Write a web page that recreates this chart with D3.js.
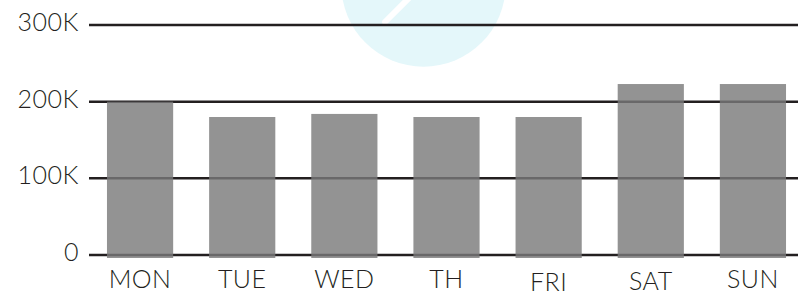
<!DOCTYPE html>
<html>
<head>
<meta charset="utf-8">
<script src="https://cdn.jsdelivr.net/npm/d3@7"></script>
<style>
    body { margin: 0; background: #fff; }
    svg { display: block; }
    text { font-family: "Lato", "Open Sans", sans-serif; font-weight: 300; fill: #231f20; letter-spacing: 0.5px; }
</style>
</head>
<body>
<svg id="chart"></svg>
<script>
const days = ["MON", "TUE", "WED", "TH", "FRI", "SAT", "SUN"];
const visits = [200000, 180000, 184000, 180000, 180000, 223000, 223000];
const yTicks = [0, 100000, 200000, 300000];
const yTickLabels = ["0", "100K", "200K", "300K"];

// small vertical nudges of the day labels, as in the original
const labelNudge = [0, 0, 0, 0, 3, 2, 0];

const width = 798;
const height = 295;

const svg = d3.select("#chart")
    .attr("width", width)
    .attr("height", height);

const x = d3.scaleBand()
    .domain(days)
    .range([89, 804])
    .paddingInner(0.352)
    .paddingOuter(0.176);

const y = d3.scaleLinear()
    .domain([0, 300000])
    .range([255, 25]);

// faint watermark behind the chart
const mark = svg.append("g");
mark.append("circle")
    .attr("cx", 423.5)
    .attr("cy", -15.5)
    .attr("r", 82.2)
    .attr("fill", "#e4f7fa");
mark.append("line")
    .attr("x1", 385)
    .attr("y1", 22)
    .attr("x2", 414)
    .attr("y2", -7)
    .attr("stroke", "#fff")
    .attr("stroke-width", 6)
    .attr("stroke-linecap", "round");

// gridlines
svg.append("g")
    .selectAll("line")
    .data(yTicks)
    .enter().append("line")
    .attr("x1", 89)
    .attr("x2", width)
    .attr("y1", d => y(d))
    .attr("y2", d => y(d))
    .attr("stroke", "#231f20")
    .attr("stroke-width", 2.5);

// y labels
svg.append("g")
    .selectAll("text")
    .data(yTicks)
    .enter().append("text")
    .attr("x", 79)
    .attr("y", d => y(d) - 4)
    .attr("text-anchor", "end")
    .attr("dominant-baseline", "central")
    .attr("font-size", 25)
    .text((d, i) => yTickLabels[i]);

// bars (slightly see-through, running a bit below the baseline)
svg.append("g")
    .selectAll("rect")
    .data(visits)
    .enter().append("rect")
    .attr("x", (d, i) => x(days[i]))
    .attr("width", x.bandwidth())
    .attr("y", d => y(d))
    .attr("height", d => y(0) - y(d) + 3)
    .attr("fill", "#7a7a7a")
    .attr("fill-opacity", 0.81);

// day labels
svg.append("g")
    .selectAll("text")
    .data(days)
    .enter().append("text")
    .attr("x", d => x(d) + x.bandwidth() / 2)
    .attr("y", (d, i) => 288 + labelNudge[i])
    .attr("text-anchor", "middle")
    .attr("font-size", 25)
    .text(d => d);
</script>
</body>
</html>
